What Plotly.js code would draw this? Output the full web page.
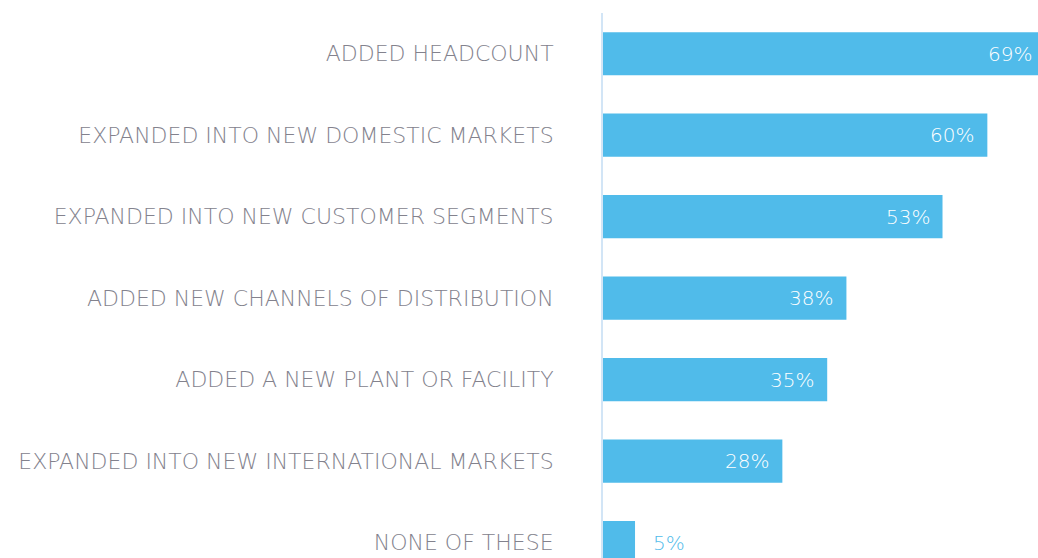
<!DOCTYPE html>
<html>
<head>
<meta charset="utf-8">
<script src="https://cdn.plot.ly/plotly-3.0.1.min.js"></script>
<style>
html, body { margin: 0; padding: 0; overflow: hidden; background: #ffffff; }
#chart { width: 1045px; height: 558px; }
</style>
</head>
<body>
<div id="chart"></div>
<script>
const categories = [
  "ADDED HEADCOUNT",
  "EXPANDED INTO NEW DOMESTIC MARKETS",
  "EXPANDED INTO NEW CUSTOMER SEGMENTS",
  "ADDED NEW CHANNELS OF DISTRIBUTION",
  "ADDED A NEW PLANT OR FACILITY",
  "EXPANDED INTO NEW INTERNATIONAL MARKETS",
  "NONE OF THESE"
];
const values = [69, 60, 53, 38, 35, 28, 5];
const valueLabels = ["69%", "60%", "53%", "38%", "35%", "28%", "5%"];

const barColor = "#50bbea";
const labelGrey = "#83828d";
const fontFamily = "'DejaVu Sans', 'Open Sans', sans-serif";

const annotations = values.map((v, i) => {
  const inside = v >= 10;
  return {
    x: v, y: categories[i], xref: "x", yref: "y",
    text: valueLabels[i],
    showarrow: false,
    xanchor: inside ? "right" : "left",
    xshift: inside ? -11 : 16,
    font: { family: fontFamily, size: 20, color: inside ? "#ffffff" : barColor, weight: 200 }
  };
});

const trace = {
  type: "bar",
  orientation: "h",
  x: values,
  y: categories,
  marker: { color: barColor },
  hoverinfo: "skip"
};

const layout = {
  width: 1045,
  height: 558,
  margin: { l: 603, r: 0, t: 13, b: 0, pad: 0 },
  paper_bgcolor: "#ffffff",
  plot_bgcolor: "#ffffff",
  bargap: 0.47,
  showlegend: false,
  xaxis: {
    range: [0, 69],
    showgrid: false, zeroline: false, showline: false,
    showticklabels: false, ticks: ""
  },
  yaxis: {
    type: "category",
    categoryorder: "array",
    categoryarray: categories,
    range: [6.19, -0.5],
    showgrid: false, zeroline: false,
    showline: true, linecolor: "#d2e5f6", linewidth: 2,
    ticks: "",
    ticklabelstandoff: 43,
    tickfont: { family: fontFamily, size: 22, color: labelGrey, weight: 200 }
  },
  annotations: annotations
};

Plotly.newPlot("chart", [trace], layout, { displayModeBar: false, staticPlot: true });
</script>
</body>
</html>
